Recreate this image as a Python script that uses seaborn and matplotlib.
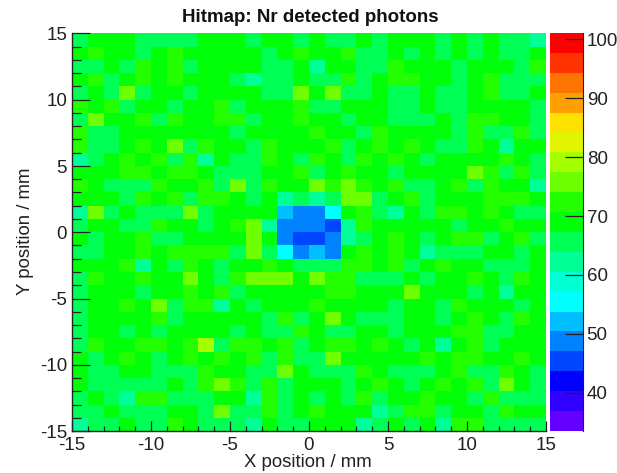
import matplotlib
matplotlib.use('Agg')
import matplotlib.pyplot as plt
import seaborn as sns
from matplotlib.colors import ListedColormap
from matplotlib.ticker import MultipleLocator

plt.rcParams['font.family'] = ['Liberation Sans', 'DejaVu Sans']

# Detected photons per 1x1 mm bin, top row is Y = 14..15
row_00 = [65, 69, 69, 69, 65, 65, 65, 65, 69, 69, 69, 65, 69, 69, 65, 69, 65, 65, 69, 65, 69, 69, 69, 65, 69, 65, 69, 65, 65, 62]
row_01 = [69, 72, 69, 69, 65, 69, 72, 69, 69, 69, 69, 69, 65, 69, 72, 69, 69, 72, 65, 65, 69, 65, 69, 65, 69, 65, 69, 65, 65, 69]
row_02 = [65, 65, 69, 65, 72, 69, 72, 65, 69, 69, 69, 69, 65, 65, 69, 62, 69, 69, 65, 65, 72, 69, 69, 69, 65, 69, 69, 69, 65, 72]
row_03 = [69, 72, 65, 69, 72, 69, 72, 69, 69, 69, 65, 62, 65, 65, 69, 65, 65, 72, 65, 69, 72, 72, 69, 69, 65, 69, 72, 65, 65, 65]
row_04 = [65, 69, 65, 76, 65, 69, 69, 65, 69, 69, 69, 69, 65, 65, 76, 69, 76, 65, 65, 69, 65, 65, 69, 65, 65, 69, 72, 65, 65, 69]
row_05 = [72, 69, 72, 65, 69, 69, 65, 69, 69, 72, 65, 69, 69, 69, 72, 65, 65, 69, 69, 69, 65, 65, 69, 65, 65, 69, 69, 69, 69, 65]
row_06 = [65, 76, 69, 69, 72, 65, 72, 69, 69, 72, 72, 65, 69, 69, 72, 69, 69, 65, 69, 69, 65, 65, 65, 69, 65, 72, 72, 69, 69, 65]
row_07 = [72, 65, 65, 69, 69, 69, 69, 69, 69, 69, 65, 69, 69, 69, 69, 72, 69, 69, 65, 72, 69, 69, 69, 69, 65, 72, 65, 65, 72, 65]
row_08 = [72, 65, 65, 69, 72, 69, 76, 65, 72, 69, 69, 65, 72, 69, 69, 69, 72, 65, 69, 72, 69, 72, 69, 65, 65, 72, 69, 62, 69, 69]
row_09 = [62, 65, 69, 72, 69, 72, 65, 72, 62, 69, 65, 65, 72, 69, 65, 72, 69, 65, 72, 69, 72, 69, 65, 69, 69, 69, 69, 72, 69, 65]
row_10 = [69, 69, 69, 72, 72, 69, 72, 72, 69, 65, 65, 65, 69, 69, 72, 65, 69, 72, 69, 69, 65, 69, 69, 69, 69, 76, 72, 65, 72, 65]
row_11 = [72, 69, 65, 65, 65, 72, 69, 69, 72, 65, 76, 65, 72, 69, 69, 76, 72, 76, 72, 69, 72, 65, 65, 69, 72, 65, 72, 69, 69, 62]
row_12 = [69, 69, 69, 65, 72, 69, 72, 65, 72, 72, 69, 65, 69, 62, 65, 62, 65, 76, 76, 65, 69, 72, 65, 69, 69, 69, 72, 72, 72, 69]
row_13 = [62, 76, 65, 69, 65, 65, 65, 76, 65, 69, 69, 69, 69, 52, 49, 49, 55, 69, 72, 65, 62, 69, 65, 72, 72, 69, 72, 69, 65, 65]
row_14 = [65, 69, 69, 65, 65, 72, 69, 69, 65, 69, 72, 76, 62, 49, 49, 49, 45, 62, 72, 69, 69, 69, 69, 69, 65, 69, 69, 72, 69, 69]
row_15 = [69, 65, 69, 69, 72, 65, 65, 69, 69, 69, 69, 76, 69, 49, 45, 45, 49, 62, 65, 69, 72, 69, 65, 69, 72, 72, 65, 69, 72, 65]
row_16 = [65, 65, 69, 69, 72, 69, 72, 72, 72, 72, 65, 76, 65, 55, 49, 52, 49, 69, 72, 69, 72, 69, 62, 65, 65, 65, 69, 69, 65, 69]
row_17 = [69, 69, 69, 72, 62, 69, 65, 72, 69, 65, 69, 69, 72, 69, 65, 65, 65, 72, 72, 69, 72, 65, 69, 72, 69, 69, 65, 65, 65, 69]
row_18 = [65, 72, 69, 69, 72, 69, 69, 76, 69, 65, 72, 76, 76, 76, 69, 76, 72, 72, 65, 65, 65, 69, 65, 69, 69, 72, 69, 65, 72, 69]
row_19 = [65, 69, 69, 69, 65, 69, 69, 72, 69, 72, 65, 69, 69, 69, 69, 69, 72, 72, 69, 69, 69, 76, 69, 69, 69, 65, 69, 62, 69, 69]
row_20 = [65, 69, 69, 72, 69, 76, 65, 72, 72, 62, 69, 65, 69, 69, 69, 72, 69, 69, 69, 69, 65, 69, 69, 65, 72, 69, 69, 69, 65, 69]
row_21 = [65, 69, 69, 69, 69, 72, 65, 69, 69, 69, 69, 69, 65, 72, 65, 69, 76, 69, 65, 65, 65, 69, 69, 65, 69, 72, 69, 65, 72, 69]
row_22 = [65, 69, 69, 65, 69, 65, 69, 69, 69, 69, 65, 69, 65, 65, 72, 69, 65, 65, 69, 69, 65, 69, 69, 69, 72, 72, 65, 65, 69, 69]
row_23 = [65, 72, 69, 69, 72, 72, 69, 72, 79, 65, 72, 72, 69, 72, 65, 69, 72, 72, 69, 72, 69, 65, 69, 62, 69, 72, 65, 69, 69, 69]
row_24 = [69, 65, 69, 72, 69, 65, 69, 72, 69, 72, 69, 72, 65, 72, 65, 65, 76, 69, 69, 69, 69, 69, 72, 69, 72, 72, 69, 69, 72, 69]
row_25 = [69, 65, 65, 69, 69, 65, 65, 65, 72, 69, 69, 65, 65, 76, 69, 65, 65, 65, 72, 69, 65, 65, 65, 69, 72, 65, 65, 72, 69, 65]
row_26 = [69, 65, 65, 65, 65, 65, 69, 65, 72, 76, 72, 65, 72, 65, 69, 69, 69, 65, 69, 72, 69, 65, 69, 72, 69, 72, 65, 76, 69, 65]
row_27 = [65, 69, 65, 62, 72, 72, 65, 65, 65, 69, 69, 62, 72, 65, 69, 65, 69, 65, 72, 65, 69, 69, 72, 69, 69, 65, 72, 65, 65, 65]
row_28 = [65, 65, 69, 65, 65, 65, 69, 69, 65, 76, 65, 65, 72, 65, 69, 72, 69, 69, 69, 62, 65, 72, 72, 65, 69, 69, 65, 72, 69, 69]
row_29 = [62, 65, 65, 69, 65, 65, 72, 69, 65, 65, 65, 62, 69, 65, 65, 69, 69, 69, 62, 65, 69, 65, 69, 62, 72, 72, 65, 65, 65, 65]

hits = [row_00, row_01, row_02, row_03, row_04, row_05, row_06, row_07, row_08, row_09,
        row_10, row_11, row_12, row_13, row_14, row_15, row_16, row_17, row_18, row_19,
        row_20, row_21, row_22, row_23, row_24, row_25, row_26, row_27, row_28, row_29]

# ROOT style rainbow palette, 20 levels, low to high
palette = ['#6400ff', '#3200ff', '#0000ff', '#0046ff', '#0082ff', '#00beff', '#00ffff',
           '#00ffd2', '#00ff96', '#00ff55', '#00ff08', '#23ff00', '#6eff00', '#a5ff00',
           '#e1f500', '#ffe100', '#ffa000', '#ff7300', '#ff3200', '#ff0000']
z_min = 33.5
z_max = 101.1

pos_labels = [-15, -10, -5, 0, 5, 10, 15]
cbar_ticks = [40, 50, 60, 70, 80, 90, 100]

W, H = 617, 473
fig = plt.figure(figsize=(W / 100, H / 100), dpi=100)
ax = fig.add_axes([72 / W, 1 - 431 / H, 474 / W, 397.5 / H])
cax = fig.add_axes([549.5 / W, 1 - 431 / H, 33 / W, 398 / H])

sns.heatmap(hits, ax=ax, cbar_ax=cax, cmap=ListedColormap(palette), vmin=z_min, vmax=z_max,
            xticklabels=False, yticklabels=False, linewidths=0, rasterized=True)

# axis frame, ticks point inwards like in ROOT
ax.set_xticks([5 * i for i in range(7)])
ax.set_xticklabels(pos_labels)
ax.set_yticks([5 * i for i in range(7)])
ax.set_yticklabels(pos_labels[::-1])
ax.xaxis.set_minor_locator(MultipleLocator(1))
ax.yaxis.set_minor_locator(MultipleLocator(1))
ax.tick_params(axis='x', which='major', direction='in', length=7.5, width=0.9, color='#222222', labelsize=13.5, pad=4, labelcolor='#222222')
ax.tick_params(axis='x', which='minor', direction='in', length=3.7, width=0.9, color='#222222')
ax.tick_params(axis='y', which='major', direction='in', length=13, width=0.9, color='#222222', labelsize=13.5, pad=3.5, labelcolor='#222222')
ax.tick_params(axis='y', which='minor', direction='in', length=6.5, width=0.9, color='#222222')
for side in ['top', 'right']:
    ax.spines[side].set_visible(False)
for side in ['left', 'bottom']:
    ax.spines[side].set_visible(True)
    ax.spines[side].set_linewidth(1)
    ax.spines[side].set_color('#222222')

fig.text(310 / W, 1 - 17 / H, 'Hitmap: Nr detected photons', ha='center', va='center',
         fontsize=13.5, fontweight='bold', color='#111111')
fig.text(308 / W, 1 - 462 / H, 'X position / mm', ha='center', va='center', fontsize=13.4, color='#222222')
fig.text(26 / W, 1 - 231 / H, 'Y position / mm', ha='center', va='center', rotation=90, fontsize=13.4, color='#222222')

# colour bar
cbar = ax.collections[0].colorbar
cbar.outline.set_visible(False)
cbar.set_ticks(cbar_ticks)
cbar.ax.minorticks_off()
cax.yaxis.set_ticks_position('right')
cax.tick_params(axis='y', direction='in', length=13, width=0.9, color='#222222', labelsize=13.5, pad=3, labelcolor='#222222')
cax.spines['right'].set_visible(True)
cax.spines['right'].set_color('#222222')

fig.savefig('out.png', dpi=100)
